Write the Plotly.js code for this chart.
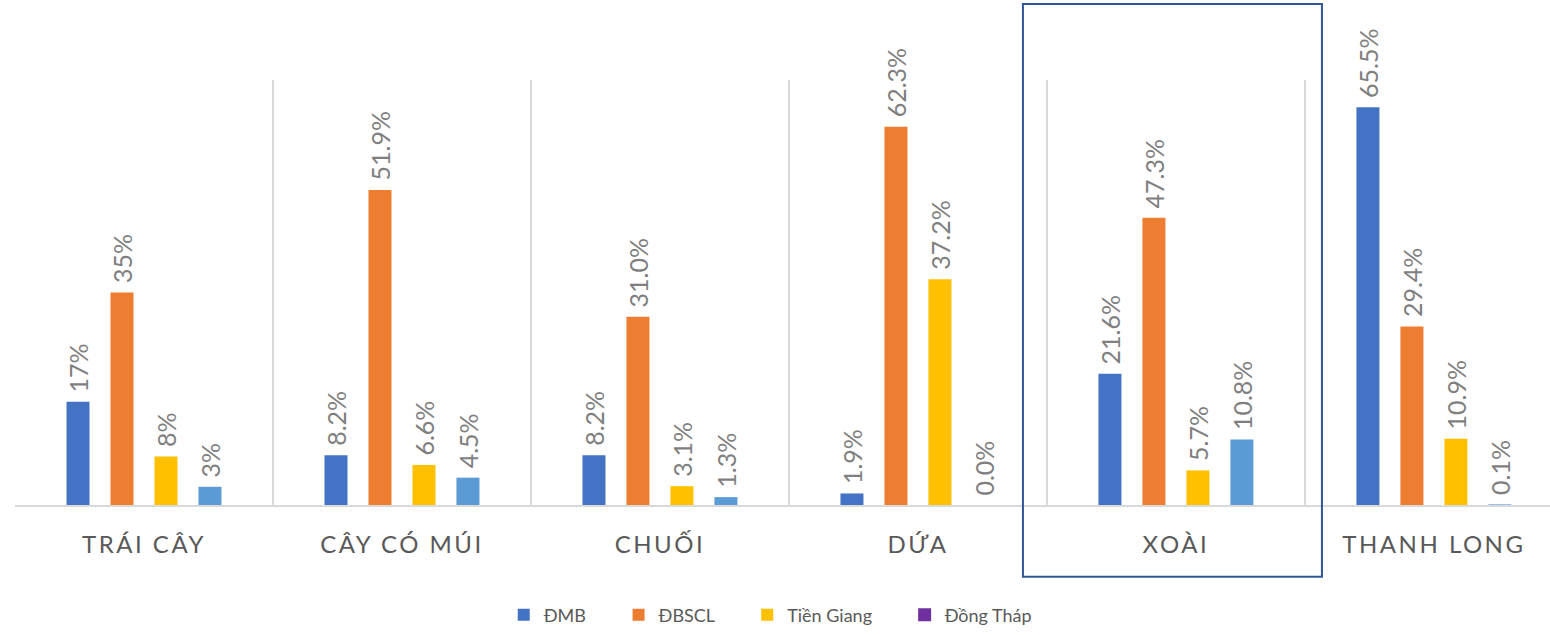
<!DOCTYPE html>
<html><head><meta charset="utf-8">
<script src="https://cdn.plot.ly/plotly-3.0.1.min.js"></script>
<style>
html,body{margin:0;padding:0;background:#fff;}
.xtick text{letter-spacing:2.5px;}
</style>
</head><body>
<div id="chart" style="width:1550px;height:635px;"></div>
<script>
const categories = ["TRÁI CÂY", "CÂY CÓ MÚI", "CHUỐI", "DỨA", "XOÀI", "THANH LONG"];
const seriesNames = ["ĐMB", "ĐBSCL", "Tiền Giang", "Đồng Tháp"];
const dmb = [17, 8.2, 8.2, 1.9, 21.6, 65.5];
const dbscl = [35, 51.9, 31.0, 62.3, 47.3, 29.4];
const tienGiang = [8, 6.6, 3.1, 37.2, 5.7, 10.9];
const dongThap = [3, 4.5, 1.3, 0.0, 10.8, 0.1];
const dmbLabels = ["17%", "8.2%", "8.2%", "1.9%", "21.6%", "65.5%"];
const dbsclLabels = ["35%", "51.9%", "31.0%", "62.3%", "47.3%", "29.4%"];
const tienGiangLabels = ["8%", "6.6%", "3.1%", "37.2%", "5.7%", "10.9%"];
const dongThapLabels = ["3%", "4.5%", "1.3%", "0.0%", "10.8%", "0.1%"];
const barColors = ["#4472C4", "#ED7D31", "#FFC000", "#5B9BD5"];
const legendColorDongThap = "#7030A0";

const FONT = "Lato, 'Liberation Sans', sans-serif";
const pad = s => "\u00a0" + s;
const legendName = s => s + "\u00a0".repeat(6);

function barTrace(name, y, labels, color, showlegend) {
  return {
    type: "bar", name: legendName(name), x: categories, y: y,
    text: labels.map(pad), textposition: "outside", textangle: -90,
    cliponaxis: false, constraintext: "none",
    textfont: {family: FONT, size: 25, color: "#7F7F7F"},
    marker: {color: color}, showlegend: showlegend, hoverinfo: "skip"
  };
}

const data = [
  barTrace(seriesNames[0], dmb, dmbLabels, barColors[0], true),
  barTrace(seriesNames[1], dbscl, dbsclLabels, barColors[1], true),
  barTrace(seriesNames[2], tienGiang, tienGiangLabels, barColors[2], true),
  barTrace(seriesNames[3], dongThap, dongThapLabels, barColors[3], false),
  {type: "scatter", mode: "markers", name: seriesNames[3], x: [null], y: [null],
   marker: {symbol: "square", size: 13, color: legendColorDongThap}, showlegend: true}
];

const layout = {
  width: 1550, height: 635,
  margin: {l: 15, r: 0, t: 80, b: 130},
  paper_bgcolor: "#fff", plot_bgcolor: "#fff",
  barmode: "group", bargap: 0.318, bargroupgap: 0.477,
  font: {family: FONT, color: "#595959"},
  xaxis: {
    type: "category", range: [-0.5, 5.45],
    tickson: "boundaries", showgrid: true, gridcolor: "#D9D9D9", gridwidth: 1.5,
    showline: true, linecolor: "#D9D9D9", linewidth: 1.5,
    ticks: "", ticklabelstandoff: 18,
    tickfont: {family: FONT, size: 24, color: "#595959"}
  },
  yaxis: {range: [0, 70], visible: false, showgrid: false, zeroline: false, fixedrange: true},
  showlegend: true,
  legend: {orientation: "h", x: 0.492, xanchor: "center", y: -0.259, yanchor: "middle",
           font: {family: FONT, size: 18, color: "#595959"}, itemwidth: 30,
           traceorder: "normal"},
  shapes: [{type: "rect", xref: "x", yref: "paper", x0: 3.407, x1: 4.566, y0: -0.169, y1: 1.179,
            line: {color: "#2F5597", width: 2}, fillcolor: "rgba(0,0,0,0)", layer: "above"}]
};

Plotly.newPlot("chart", data, layout, {displayModeBar: false, staticPlot: true});
</script>
</body></html>
